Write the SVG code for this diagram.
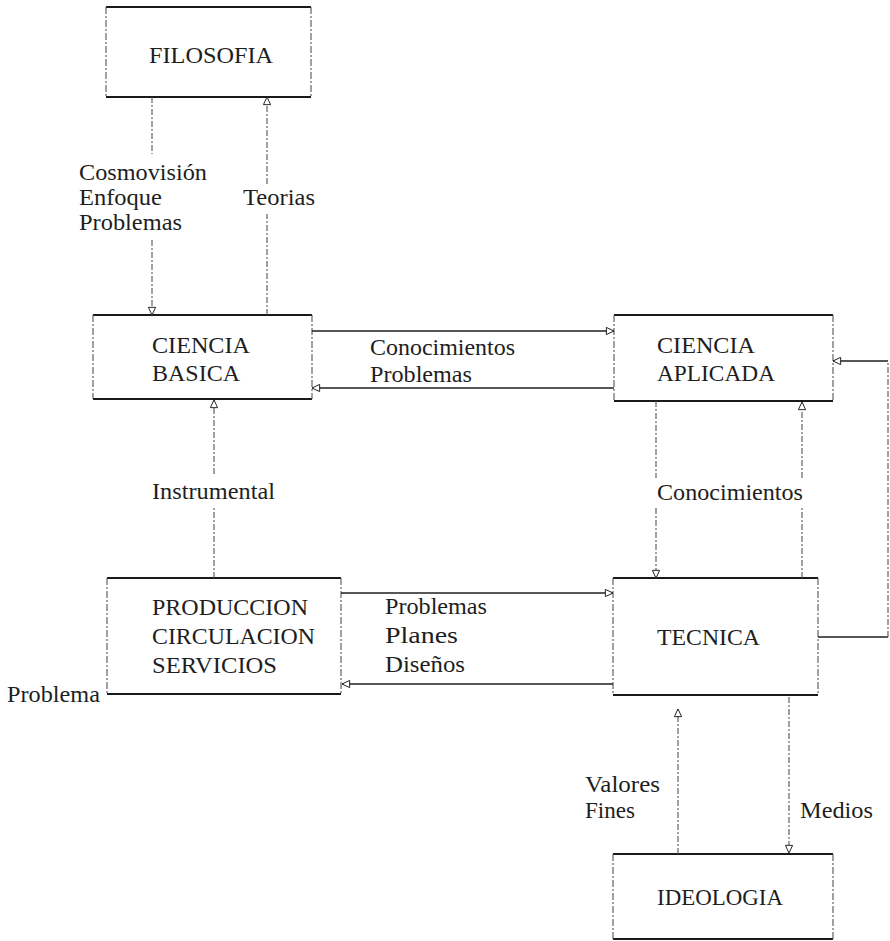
<svg xmlns="http://www.w3.org/2000/svg" width="890" height="941" viewBox="0 0 890 941">
<style>
  text { font-family: "Liberation Serif", "Times New Roman", serif; font-size: 23px; fill: #1e1e1e; }
  .edge { fill: none; stroke: #1a1a1a; stroke-width: 1.8; }
  .side { fill: none; stroke: #555; stroke-width: 1.1; stroke-dasharray: 7 2 2 2; }
  .hline { fill: none; stroke: #1f1f1f; stroke-width: 1.4; }
  .vline { fill: none; stroke: #555; stroke-width: 1.1; stroke-dasharray: 6 2 2 2; }
</style>
<defs>
  <marker id="arr" viewBox="0 0 10 10" refX="9.5" refY="5" markerWidth="10" markerHeight="9" markerUnits="userSpaceOnUse" orient="auto">
    <path d="M1,1 L9.5,5 L1,9 z" fill="#fff" stroke="#222" stroke-width="1.1"/>
  </marker>
</defs>
<rect width="890" height="941" fill="#fff"/>

<g id="filosofia">
  <path class="edge" d="M106,7 H311 M106,97 H311"/>
  <path class="side" d="M106,7 V97 M311,7 V97"/>
  <text x="149" y="63" textLength="124" lengthAdjust="spacingAndGlyphs">FILOSOFIA</text>
</g>

<g id="ciencia-basica">
  <path class="edge" d="M93,315 H312 M93,399 H312"/>
  <path class="side" d="M93,315 V399 M312,315 V399"/>
  <text x="152" y="353" textLength="98" lengthAdjust="spacingAndGlyphs">CIENCIA</text>
  <text x="152" y="381" textLength="88" lengthAdjust="spacingAndGlyphs">BASICA</text>
</g>

<g id="ciencia-aplicada">
  <path class="edge" d="M614,315 H833 M614,401 H833"/>
  <path class="side" d="M614,315 V401 M833,315 V401"/>
  <text x="657" y="353" textLength="98" lengthAdjust="spacingAndGlyphs">CIENCIA</text>
  <text x="657" y="381" textLength="118" lengthAdjust="spacingAndGlyphs">APLICADA</text>
</g>

<g id="produccion">
  <path class="edge" d="M107,578 H341 M107,694 H341"/>
  <path class="side" d="M107,578 V694 M341,578 V694"/>
  <text x="152" y="615" textLength="156" lengthAdjust="spacingAndGlyphs">PRODUCCION</text>
  <text x="152" y="644" textLength="163" lengthAdjust="spacingAndGlyphs">CIRCULACION</text>
  <text x="152" y="673" textLength="125" lengthAdjust="spacingAndGlyphs">SERVICIOS</text>
</g>

<g id="tecnica">
  <path class="edge" d="M613,578 H818 M613,695 H818"/>
  <path class="side" d="M613,578 V695 M818,578 V695"/>
  <text x="657" y="645" textLength="103" lengthAdjust="spacingAndGlyphs">TECNICA</text>
</g>

<g id="ideologia">
  <path class="edge" d="M613,854 H833 M613,939 H833"/>
  <path class="side" d="M613,854 V939 M833,854 V939"/>
  <text x="657" y="905" textLength="126" lengthAdjust="spacingAndGlyphs">IDEOLOGIA</text>
</g>

<g id="connectors">
  <path class="vline" d="M152,97 V154"/>
  <path class="vline" d="M152,240 V315" marker-end="url(#arr)"/>
  <path class="vline" d="M267,315 V214"/>
  <path class="vline" d="M267,184 V97" marker-end="url(#arr)"/>
  <path class="hline" d="M312,331 H614" marker-end="url(#arr)"/>
  <path class="hline" d="M614,388 H312" marker-end="url(#arr)"/>
  <path class="vline" d="M656,401 V478"/>
  <path class="vline" d="M656,508 V578" marker-end="url(#arr)"/>
  <path class="vline" d="M802,578 V508"/>
  <path class="vline" d="M802,478 V402" marker-end="url(#arr)"/>
  <path class="vline" d="M214,578 V507"/>
  <path class="vline" d="M214,474 V400" marker-end="url(#arr)"/>
  <path class="hline" d="M341,593 H613" marker-end="url(#arr)"/>
  <path class="hline" d="M613,684 H342" marker-end="url(#arr)"/>
  <path class="hline" d="M818,637 H888"/>
  <path class="vline" d="M888,637 V361"/>
  <path class="hline" d="M888,361 H833" marker-end="url(#arr)"/>
  <path class="vline" d="M678,854 V709" marker-end="url(#arr)"/>
  <path class="vline" d="M789,697 V853" marker-end="url(#arr)"/>
</g>

<g id="labels">
  <text x="79" y="180" textLength="128" lengthAdjust="spacingAndGlyphs">Cosmovisión</text>
  <text x="79" y="205" textLength="83" lengthAdjust="spacingAndGlyphs">Enfoque</text>
  <text x="79" y="230" textLength="103" lengthAdjust="spacingAndGlyphs">Problemas</text>
  <text x="243" y="205" textLength="72" lengthAdjust="spacingAndGlyphs">Teorias</text>
  <text x="370" y="355" textLength="145" lengthAdjust="spacingAndGlyphs">Conocimientos</text>
  <text x="370" y="382" textLength="102" lengthAdjust="spacingAndGlyphs">Problemas</text>
  <text x="152" y="499" textLength="123" lengthAdjust="spacingAndGlyphs">Instrumental</text>
  <text x="657" y="500" textLength="146" lengthAdjust="spacingAndGlyphs">Conocimientos</text>
  <text x="385" y="614" textLength="102" lengthAdjust="spacingAndGlyphs">Problemas</text>
  <text x="385" y="643" textLength="73" lengthAdjust="spacingAndGlyphs">Planes</text>
  <text x="385" y="672" textLength="80" lengthAdjust="spacingAndGlyphs">Diseños</text>
  <text x="7" y="702" textLength="93" lengthAdjust="spacingAndGlyphs">Problema</text>
  <text x="585" y="792" textLength="75" lengthAdjust="spacingAndGlyphs">Valores</text>
  <text x="585" y="818" textLength="50" lengthAdjust="spacingAndGlyphs">Fines</text>
  <text x="800" y="818" textLength="73" lengthAdjust="spacingAndGlyphs">Medios</text>
</g>
</svg>
